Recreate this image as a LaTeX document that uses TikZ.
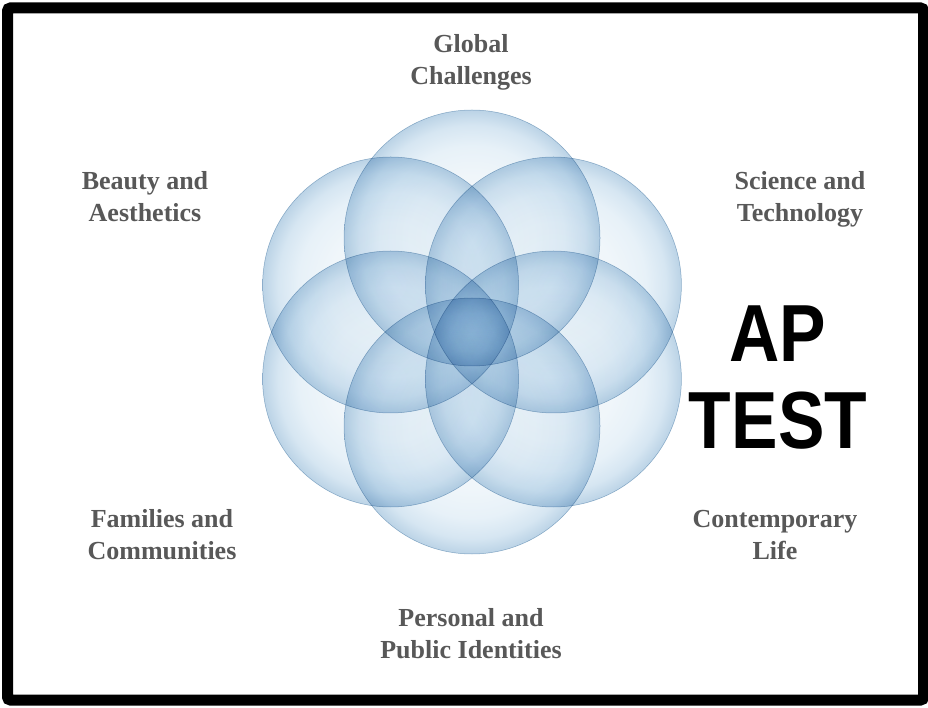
\documentclass[tikz,border=0pt]{standalone}
\usepackage{fontspec}
\setmainfont{Liberation Serif}
\setsansfont{Liberation Sans}
\usetikzlibrary{positioning}
\definecolor{bubbleA}{RGB}{246,249,252}
\definecolor{bubbleB}{RGB}{240,246,250}
\definecolor{bubbleC}{RGB}{231,241,248}
\definecolor{bubbleD}{RGB}{214,230,242}
\definecolor{rimblue}{RGB}{187,211,230}
\definecolor{edgeblue}{RGB}{158,187,210}
\definecolor{themegray}{RGB}{88,88,88}
\pgfdeclareradialshading{bubble}{\pgfpoint{0bp}{0bp}}{color(0bp)=(bubbleA); color(12bp)=(bubbleB); color(18bp)=(bubbleC); color(22bp)=(bubbleD); color(25bp)=(rimblue); color(50bp)=(rimblue)}
\tikzset{
  bubblenode/.style={circle, minimum size=256pt, inner sep=0pt, shade, shading=bubble, draw=edgeblue, line width=0.5pt},
  theme/.style={font=\bfseries\fontsize{26}{32}\selectfont, text=themegray, align=center},
}
\begin{document}
\begin{tikzpicture}[x=1pt,y=1pt]
        \fill[white] (0,0) rectangle (928,707);
        \useasboundingbox (0,0) rectangle (928,707);
        \coordinate (O) at (472,375);
        \begin{scope}[blend mode=multiply]
        \foreach \a/\n in {90/C1,30/C2,-30/C3,-90/C4,-150/C5,150/C6}
            \node[bubblenode] (\n) at ([shift={(\a:94)}]O) {};
        \end{scope}
        \node[theme] (global) at (471,645) {Global\\Challenges};
        \node[theme] (beauty) at (145,510) {Beauty and\\Aesthetics};
        \node[theme] (science) at (800,508) {Science and\\Technology};
        \node[theme] (families) at (162,172) {Families and\\Communities};
        \node[theme] (life) at (775,172) {Contemporary\\Life};
        \node[theme] (identities) at (471,73) {Personal and\\Public Identities};
        \node[font=\sffamily\bfseries\fontsize{81}{87}\selectfont, xscale=0.86, align=center] (aptest) at (778,329) {AP\\TEST};
        \draw[line width=11pt, rounded corners=3pt] (7.5,7) rectangle (923.5,699);
    \end{tikzpicture}
\end{document}
